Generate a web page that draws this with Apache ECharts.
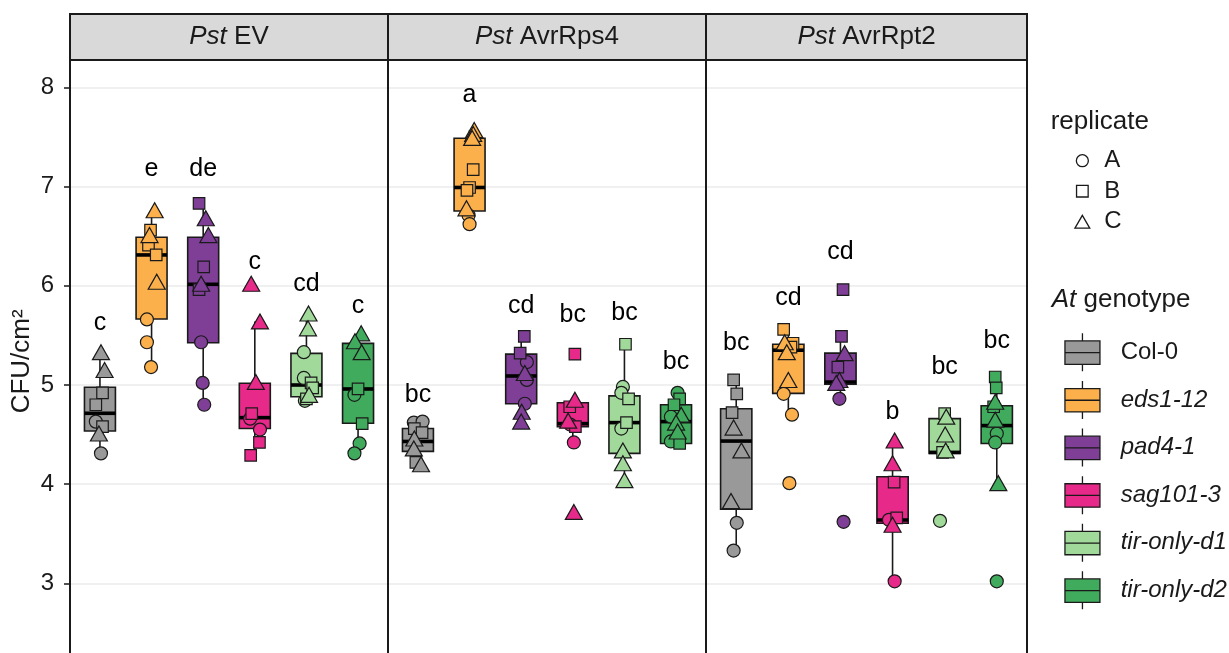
<!DOCTYPE html>
<html>
<head>
<meta charset="utf-8">
<script src="https://cdn.jsdelivr.net/npm/echarts@6/dist/echarts.min.js"></script>
<style>
  html, body { margin: 0; padding: 0; background: #fff; }
  #chart { width: 1229px; height: 653px; }
</style>
</head>
<body>
<div id="chart"></div>
<script>
// ---- data ---------------------------------------------------------------
const panels = ['Pst EV', 'Pst AvrRps4', 'Pst AvrRpt2'];
const genotypes = ['Col-0', 'eds1-12', 'pad4-1', 'sag101-3', 'tir-only-d1', 'tir-only-d2'];
const replicates = ['A', 'B', 'C'];
const yTicks = [3, 4, 5, 6, 7, 8];

// box statistics per panel, per genotype: [lower whisker, Q1, median, Q3, upper whisker]
const boxEV = [
  [4.31, 4.535, 4.714, 4.976, 5.33],
  [5.18, 5.664, 6.31, 6.488, 6.76],
  [4.80, 5.425, 6.014, 6.488, 6.83],
  [4.29, 4.56, 4.67, 5.016, 5.64],
  [4.84, 4.881, 4.999, 5.318, 5.72],
  [4.31, 4.613, 4.959, 5.419, 5.52]
];
const boxRps4 = [
  [4.18, 4.33, 4.43, 4.56, 4.63],
  [6.62, 6.753, 6.99, 7.486, 7.57],
  [4.63, 4.81, 5.09, 5.31, 5.49],
  [4.42, 4.58, 4.61, 4.82, 4.85],
  [4.04, 4.31, 4.62, 4.89, 5.41],
  [4.41, 4.41, 4.63, 4.80, 4.92]
];
const boxRpt2 = [
  [3.33, 3.746, 4.434, 4.76, 5.05],
  [4.70, 4.915, 5.35, 5.41, 5.56],
  [4.86, 5.006, 5.03, 5.32, 5.49],
  [3.02, 3.605, 3.638, 4.075, 4.44],
  [4.31, 4.31, 4.32, 4.66, 4.71],
  [4.01, 4.41, 4.59, 4.79, 5.08]
];

// individual measurements: [replicate, jitter (category units), CFU/cm2]
const ptsEV = [
  [['C',0.02,5.33],['C',0.09,5.15],['B',0.05,4.92],['B',-0.08,4.80],['A',-0.08,4.63],['B',0.05,4.58],['C',-0.02,4.51],['A',0.02,4.31]],
  [['C',0.06,6.76],['B',-0.02,6.56],['C',-0.04,6.51],['B',-0.06,6.41],['B',0.09,6.31],['C',0.10,6.04],['A',-0.09,5.66],['A',-0.09,5.43],['A',-0.01,5.18]],
  [['B',-0.08,6.83],['C',0.05,6.68],['C',0.10,6.51],['B',0.01,6.19],['C',-0.04,6.02],['B',-0.08,5.96],['A',-0.04,5.43],['A',-0.01,5.02],['A',0.02,4.80]],
  [['C',-0.07,6.02],['C',0.10,5.64],['C',0.02,5.03],['B',-0.06,4.71],['A',-0.09,4.66],['A',0.10,4.55],['B',0.09,4.42],['B',-0.08,4.29]],
  [['C',0.04,5.72],['C',0.03,5.57],['A',-0.05,5.33],['A',-0.05,5.07],['B',0.09,5.02],['B',0.12,4.97],['C',0.05,4.90],['B',0.00,4.86],['A',-0.03,4.84]],
  [['C',0.06,5.52],['C',-0.06,5.44],['C',0.07,5.33],['B',0.00,4.96],['A',-0.07,4.90],['B',0.08,4.61],['A',0.03,4.41],['A',-0.07,4.31]]
];
const ptsRps4 = [
  [['A',-0.08,4.62],['A',0.09,4.63],['B',-0.07,4.56],['B',0.08,4.52],['C',-0.07,4.46],['C',-0.08,4.36],['B',-0.04,4.22],['C',0.06,4.20]],
  [['C',0.09,7.57],['C',0.07,7.53],['C',0.05,7.49],['B',0.07,7.17],['B',0.00,6.99],['B',-0.05,6.96],['C',-0.06,6.78],['A',-0.02,6.71],['A',0.00,6.62]],
  [['B',0.06,5.49],['B',-0.02,5.32],['A',0.11,5.23],['C',0.07,5.12],['A',0.11,5.05],['A',0.07,4.81],['C',0.01,4.73],['C',0.00,4.63]],
  [['B',0.04,5.31],['C',0.04,4.85],['B',-0.06,4.78],['C',-0.09,4.64],['A',-0.05,4.60],['B',0.05,4.58],['A',0.02,4.42],['C',0.02,3.72]],
  [['B',0.02,5.41],['A',-0.03,4.98],['A',-0.06,4.92],['B',0.08,4.86],['B',0.04,4.62],['A',-0.06,4.56],['C',-0.03,4.34],['C',-0.03,4.21],['C',0.00,4.04]],
  [['A',0.03,4.92],['B',0.07,4.86],['B',-0.04,4.80],['C',0.10,4.70],['A',-0.10,4.68],['C',0.00,4.62],['C',0.03,4.53],['A',-0.10,4.43],['B',0.07,4.41]]
];
const ptsRpt2 = [
  [['B',-0.05,5.05],['B',0.01,4.91],['B',-0.08,4.72],['C',-0.05,4.57],['C',0.10,4.34],['C',-0.10,3.83],['A',0.01,3.61],['A',-0.05,3.33]],
  [['B',-0.09,5.56],['C',-0.07,5.43],['B',0.09,5.42],['B',0.05,5.38],['C',-0.03,5.33],['C',0.00,5.05],['A',-0.09,4.91],['A',0.07,4.70],['A',0.02,4.01]],
  [['B',0.05,5.96],['B',0.02,5.49],['C',0.08,5.32],['B',-0.05,5.18],['C',-0.02,5.05],['C',-0.08,5.02],['A',-0.02,4.86],['A',0.06,3.62]],
  [['C',0.04,4.44],['C',0.00,4.21],['B',0.03,4.02],['B',0.08,3.66],['A',-0.07,3.64],['C',0.00,3.59],['A',0.04,3.02]],
  [['B',0.00,4.71],['C',0.03,4.68],['C',0.01,4.50],['C',0.02,4.34],['B',-0.04,4.32],['A',-0.09,3.63]],
  [['B',-0.03,5.08],['B',-0.01,4.97],['C',-0.03,4.83],['B',-0.06,4.78],['C',-0.03,4.65],['A',0.00,4.51],['A',-0.03,4.42],['C',0.03,4.01],['A',0.00,3.02]]
];

// significance groups and the height at which each is printed
const lettersEV   = ['c', 'e', 'de', 'c', 'cd', 'c'];
const lettersRps4 = ['bc', 'a', 'cd', 'bc', 'bc', 'bc'];
const lettersRpt2 = ['bc', 'cd', 'cd', 'b', 'bc', 'bc'];
const letterYEV   = [5.62, 7.18, 7.18, 6.24, 6.02, 5.79];
const letterYRps4 = [4.90, 7.92, 5.79, 5.70, 5.72, 5.23];
const letterYRpt2 = [5.42, 5.87, 6.34, 4.73, 5.18, 5.44];

const boxStats = [boxEV, boxRps4, boxRpt2];
const points = [ptsEV, ptsRps4, ptsRpt2];
const letters = [lettersEV, lettersRps4, lettersRpt2];
const letterY = [letterYEV, letterYRps4, letterYRpt2];

// ---- styling & layout ------------------------------------------------------
const FONT = '"Liberation Sans", Arial, Helvetica, sans-serif';
const INK = '#1a1a1a';
const GENO_COLORS = ['#999999', '#FBB04C', '#7F3F97', '#E7298A', '#A1D99B', '#41AB5D'];
const REP_SYMBOL = { A: 'circle', B: 'rect', C: 'triangle' };
const REP_SIZE = { A: 13, B: 11.5, C: [17, 15] };

const PANEL_X = [70, 388, 706];
const PANEL_W = [318, 318, 321];
const PLOT_TOP = 60;
const PLOT_H = 602.7;
const STRIP_TOP = 14;
const STRIP_H = 46;
const Y_MIN = 2.2, Y_MAX = 8.275;
const X_MIN = 0.42, X_MAX = 6.58;
const BOX_WIDTH = 0.6;

// legend glyphs
const ICON_CIRCLE = 'path://M0,0M16,14M14,7A6,6,0,1,1,2,7A6,6,0,1,1,14,7Z';
const ICON_SQUARE = 'path://M0,0M16,14M2.2,1.2H13.8V12.8H2.2Z';
const ICON_TRI = 'path://M0,0M16,14M8,0.6L15.4,13.4L0.6,13.4Z';
const REP_ICON = [ICON_CIRCLE, ICON_SQUARE, ICON_TRI];
const ICON_BOX = 'path://M17.5,0V7.6M17.5,31V38M0,7.6H35V31H0ZM0,19.3H35';

function renderBox(params, api) {
  const x = api.value(0);
  const lo = api.coord([x, api.value(1)]);
  const q1 = api.coord([x, api.value(2)]);
  const md = api.coord([x, api.value(3)]);
  const q3 = api.coord([x, api.value(4)]);
  const hi = api.coord([x, api.value(5)]);
  const half = api.size([BOX_WIDTH, 0])[0] / 2;
  const line = { stroke: INK, lineWidth: 1.6 };
  return {
    type: 'group',
    children: [
      { type: 'line', shape: { x1: hi[0], y1: hi[1], x2: q3[0], y2: q3[1] }, style: line },
      { type: 'line', shape: { x1: q1[0], y1: q1[1], x2: lo[0], y2: lo[1] }, style: line },
      { type: 'rect', shape: { x: q3[0] - half, y: q3[1], width: 2 * half, height: q1[1] - q3[1] },
        style: { fill: api.visual('color'), stroke: INK, lineWidth: 1.6 } },
      { type: 'line', shape: { x1: md[0] - half, y1: md[1], x2: md[0] + half, y2: md[1] },
        style: { stroke: '#000', lineWidth: 3.6 } }
    ]
  };
}

function letterRenderer(p) {
  return function (params, api) {
    const pt = api.coord([api.value(0), api.value(1)]);
    return {
      type: 'text', x: pt[0], y: pt[1],
      style: { text: letters[p][params.dataIndex], fontSize: 25, fontFamily: FONT, fill: '#000',
               align: 'center', verticalAlign: 'middle' }
    };
  };
}

const series = [];
panels.forEach((panel, p) => {
  genotypes.forEach((g, gi) => {
    series.push({
      type: 'custom', name: g, xAxisIndex: p, yAxisIndex: p, z: 2,
      itemStyle: { color: GENO_COLORS[gi] },
      encode: { x: 0, y: [1, 2, 3, 4, 5] },
      renderItem: renderBox,
      data: [[gi + 1].concat(boxStats[p][gi])]
    });
  });
  replicates.forEach(r => {
    const data = [];
    points[p].forEach((grp, gi) => {
      grp.forEach(pt => {
        if (pt[0] === r) {
          data.push({ value: [gi + 1 + pt[1], pt[2]], itemStyle: { color: GENO_COLORS[gi] } });
        }
      });
    });
    series.push({
      type: 'scatter', name: r, xAxisIndex: p, yAxisIndex: p, z: 3,
      symbol: REP_SYMBOL[r], symbolSize: REP_SIZE[r],
      itemStyle: { borderColor: INK, borderWidth: 1.2, opacity: 1 },
      emphasis: { disabled: true },
      data
    });
  });
  series.push({
    type: 'custom', name: 'groups-' + p, xAxisIndex: p, yAxisIndex: p, z: 4,
    renderItem: letterRenderer(p),
    encode: { x: 0, y: 1 },
    data: genotypes.map((g, gi) => [gi + 1, letterY[p][gi]])
  });
});

const graphic = [];
panels.forEach((panel, p) => {
  const words = panel.split(' ');
  graphic.push({
    type: 'rect', z: 20,
    shape: { x: PANEL_X[p], y: STRIP_TOP, width: PANEL_W[p], height: STRIP_H },
    style: { fill: '#d9d9d9', stroke: INK, lineWidth: 2 }
  });
  graphic.push({
    type: 'text', z: 21, x: PANEL_X[p] + PANEL_W[p] / 2, y: STRIP_TOP + STRIP_H / 2,
    style: {
      text: '{i|' + words[0] + '} ' + words.slice(1).join(' '),
      fontSize: 26, fontFamily: FONT, fill: INK, align: 'center', verticalAlign: 'middle',
      rich: { i: { fontStyle: 'italic', fontSize: 26, fontFamily: FONT, fill: INK } }
    }
  });
  graphic.push({
    type: 'rect', z: 20,
    shape: { x: PANEL_X[p], y: PLOT_TOP, width: PANEL_W[p], height: PLOT_H },
    style: { fill: 'none', stroke: INK, lineWidth: 2 }
  });
});
graphic.push({
  type: 'text', z: 21, x: 1050.7, y: 121.7,
  style: { text: 'replicate', fontSize: 26, fontFamily: FONT, fill: INK, align: 'left', verticalAlign: 'middle' }
});
graphic.push({
  type: 'text', z: 21, x: 1051.7, y: 300,
  style: {
    text: '{i|At} genotype', fontSize: 26, fontFamily: FONT, fill: INK, align: 'left', verticalAlign: 'middle',
    rich: { i: { fontStyle: 'italic', fontSize: 26, fontFamily: FONT, fill: INK } }
  }
});

const option = {
  animation: false,
  backgroundColor: '#ffffff',
  textStyle: { fontFamily: FONT },
  grid: panels.map((_, p) => ({
    left: PANEL_X[p], top: PLOT_TOP, width: PANEL_W[p], height: PLOT_H,
    containLabel: false, outerBoundsMode: 'none'
  })),
  xAxis: panels.map((_, p) => ({ gridIndex: p, type: 'value', min: X_MIN, max: X_MAX, show: false })),
  yAxis: panels.map((_, p) => ({
    gridIndex: p, type: 'value', min: Y_MIN, max: Y_MAX, splitNumber: 6,
    axisLine: { show: false },
    axisTick: { show: p === 0, length: 6, lineStyle: { color: INK, width: 1.5 } },
    axisLabel: {
      show: p === 0, fontSize: 24, fontFamily: FONT, color: INK, margin: 16,
      showMinLabel: false, showMaxLabel: false,
      formatter: v => (yTicks.indexOf(v) >= 0 ? String(v) : '')
    },
    splitLine: { show: true, lineStyle: { color: '#ebebeb', width: 1.5 } },
    name: p === 0 ? 'CFU/cm²' : '',
    nameLocation: 'middle', nameGap: 35,
    nameTextStyle: { fontSize: 26, fontFamily: FONT, color: INK }
  })),
  legend: [
    {
      orient: 'vertical', left: 1073.7, top: 148.7, padding: 0,
      itemWidth: 16, itemHeight: 14, itemGap: 6.5, symbolKeepAspect: true, selectedMode: false,
      data: replicates.map((r, i) => ({ name: r, icon: REP_ICON[i] })),
      itemStyle: { color: 'rgba(0,0,0,0)', borderColor: INK, borderWidth: 1.3 },
      textStyle: { fontSize: 24, fontFamily: FONT, color: INK, lineHeight: 24, padding: [0, 0, 0, 9] }
    },
    {
      orient: 'vertical', left: 1064.3, top: 332.7, padding: 0,
      itemWidth: 35, itemHeight: 38, itemGap: 8.3, symbolKeepAspect: true, selectedMode: false,
      data: genotypes.map(g => ({ name: g, icon: ICON_BOX })),
      itemStyle: { borderColor: INK, borderWidth: 1.3 },
      formatter: name => (name === 'Col-0' ? name : '{i|' + name + '}'),
      textStyle: {
        fontSize: 24, fontFamily: FONT, color: INK, lineHeight: 24, padding: [0, 0, 0, 15.7],
        rich: { i: { fontStyle: 'italic', fontSize: 24, fontFamily: FONT, color: INK, lineHeight: 24 } }
      }
    }
  ],
  graphic,
  series
};

const chart = echarts.init(document.getElementById('chart'), null, { renderer: 'canvas' });
chart.setOption(option);
</script>
</body>
</html>
